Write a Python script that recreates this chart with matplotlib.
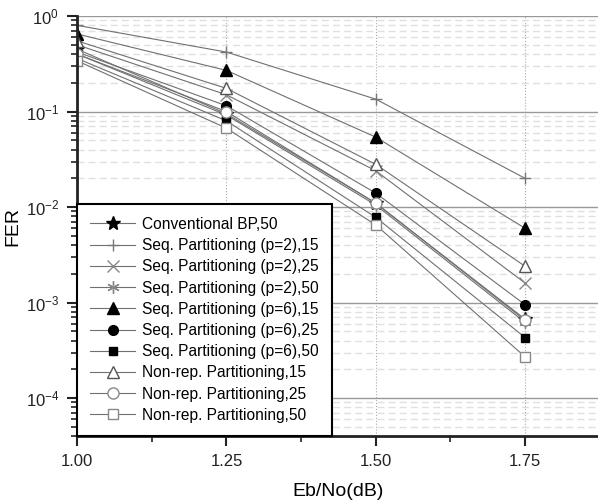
import numpy as np
import matplotlib
matplotlib.use('Agg')
import matplotlib.pyplot as plt
from matplotlib.ticker import LogLocator, FixedLocator, NullFormatter

plt.rcParams['font.family'] = ['Liberation Sans', 'DejaVu Sans']
plt.rcParams['mathtext.default'] = 'regular'

# Eb/No points
snr = [1.00, 1.25, 1.50, 1.75]

labels = ['Conventional BP,50',
          'Seq. Partitioning (p=2),15',
          'Seq. Partitioning (p=2),25',
          'Seq. Partitioning (p=2),50',
          'Seq. Partitioning (p=6),15',
          'Seq. Partitioning (p=6),25',
          'Seq. Partitioning (p=6),50',
          'Non-rep. Partitioning,15',
          'Non-rep. Partitioning,25',
          'Non-rep. Partitioning,50']

conv_bp_50  = [0.45, 0.095, 0.011, 0.00067]
seq2_15     = [0.80, 0.42, 0.135, 0.020]
seq2_25     = [0.50, 0.15, 0.024, 0.0016]
seq2_50     = [0.40, 0.092, 0.0105, 0.00062]
seq6_15     = [0.65, 0.27, 0.054, 0.0060]
seq6_25     = [0.42, 0.115, 0.014, 0.00095]
seq6_50     = [0.36, 0.080, 0.0078, 0.00043]
nonrep_15   = [0.55, 0.175, 0.028, 0.0024]
nonrep_25   = [0.40, 0.100, 0.011, 0.00065]
nonrep_50   = [0.34, 0.067, 0.0065, 0.00027]

series = [conv_bp_50, seq2_15, seq2_25, seq2_50, seq6_15,
          seq6_25, seq6_50, nonrep_15, nonrep_25, nonrep_50]

# marker, size, face, edge
styles = [('*', 10, 'black', 'black'),
          ('+', 9, 'none', '#777777'),
          ('x', 8, 'none', '#888888'),
          ((6, 2, 0), 9, 'none', '#888888'),
          ('^', 8, 'black', 'black'),
          ('o', 7, 'black', 'black'),
          ('s', 6, 'black', 'black'),
          ('^', 8, 'white', '#555555'),
          ('o', 8, 'white', '#888888'),
          ('s', 7, 'white', '#888888')]

fig = plt.figure(figsize=(5.98, 5.03), dpi=100)
ax = fig.add_axes([0.129, 0.133, 0.871, 0.835])

line_col = '#707070'
for vals, lab, (m, ms, fc, ec) in zip(series, labels, styles):
    ax.plot(snr, vals, color=line_col, lw=0.8, marker=m, ms=ms,
            mfc=fc, mec=ec, mew=1.0, label=lab)

ax.set_yscale('log')
ax.set_xlim(1.0, 1.872)
ax.set_ylim(4e-5, 1.0)

ax.xaxis.set_major_locator(FixedLocator([1.00, 1.25, 1.50, 1.75]))
ax.xaxis.set_minor_locator(FixedLocator([1.125, 1.375, 1.625]))
ax.set_xticklabels(['1.00', '1.25', '1.50', '1.75'])
ax.yaxis.set_major_locator(LogLocator(base=10, numticks=10))
ax.yaxis.set_minor_locator(LogLocator(base=10, subs=np.arange(2, 10), numticks=20))
ax.yaxis.set_minor_formatter(NullFormatter())

# grid lines
ax.grid(True, which='major', axis='y', color='#999999', lw=1.0, ls='-')
ax.grid(True, which='minor', axis='y', color='#e0e0e0', lw=1.0, ls=(0, (5, 3)))
ax.grid(True, which='major', axis='x', color='#aaaaaa', lw=0.8, ls=':')
ax.set_axisbelow(True)

for s in ['top', 'right']:
    ax.spines[s].set_visible(False)
for s in ['left', 'bottom']:
    ax.spines[s].set_linewidth(2.0)
    ax.spines[s].set_color('#222222')

ax.tick_params(which='major', direction='out', length=7, width=1.5, labelsize=12,
               colors='#222222', pad=6)
ax.tick_params(which='minor', direction='out', length=4, width=1.2, colors='#222222')

ax.set_xlabel('Eb/No(dB)', fontsize=14, labelpad=10)
ax.set_ylabel('FER', fontsize=14)
ax.yaxis.set_label_coords(-0.108, 0.5)

leg = ax.legend(loc='lower left', bbox_to_anchor=(0.0, 0.0), borderaxespad=0.0,
                fontsize=11.2, frameon=True, fancybox=False, handlelength=2.9,
                labelspacing=0.4, borderpad=0.85, handletextpad=0.4)
leg.get_frame().set_edgecolor('black')
leg.get_frame().set_linewidth(1.5)
leg.get_frame().set_alpha(1.0)

fig.savefig('out.png', dpi=100)
